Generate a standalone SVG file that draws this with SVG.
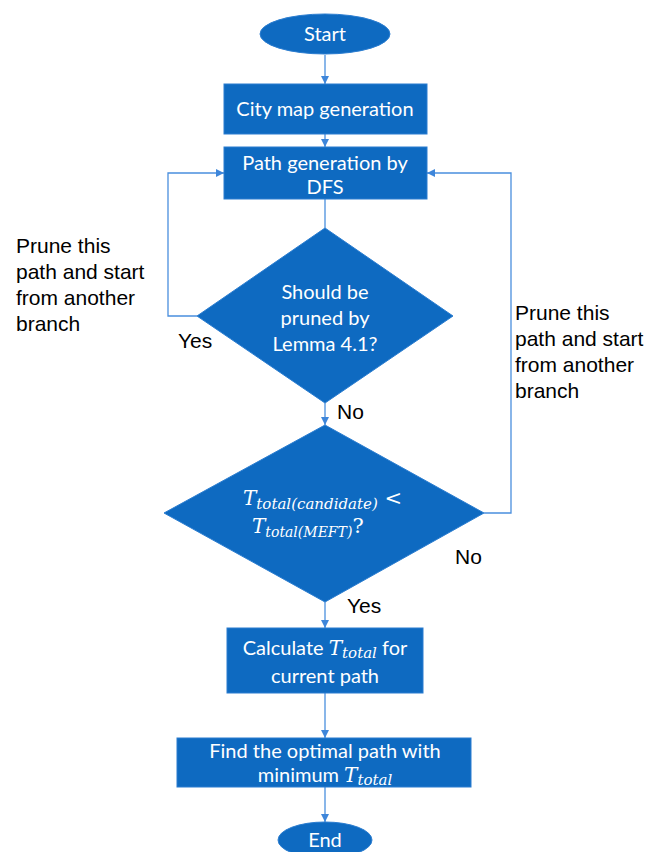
<svg xmlns="http://www.w3.org/2000/svg" width="648" height="852" viewBox="0 0 648 852">
<style>
.n{fill:#0E6AC1;stroke:#2B7DD0;stroke-width:1}
.t{font-family:Lato,"Open Sans",sans-serif;font-size:20px;fill:#fff;text-anchor:middle}
.m{font-family:"DejaVu Serif",serif;font-style:italic;fill:#fff}
.l{font-family:"Liberation Sans",Arial,sans-serif;font-size:21px;fill:#000}
.c{fill:none;stroke:#4A8FDE;stroke-width:1.3}
</style>
<defs>
<marker id="a" viewBox="0 0 10 10" refX="10" refY="5" markerWidth="8" markerHeight="8" markerUnits="userSpaceOnUse" orient="auto">
<path d="M0,0L10,5L0,10z" fill="#3E86DA"/>
</marker>
</defs>
<rect width="648" height="852" fill="#fff"/>
<g id="connectors">
<path class="c" d="M325,55V84" marker-end="url(#a)"/>
<path class="c" d="M325,134V147" marker-end="url(#a)"/>
<path class="c" d="M325,199V228"/>
<path class="c" d="M197,316H168V173H224" marker-end="url(#a)"/>
<path class="c" d="M325,403V425" marker-end="url(#a)"/>
<path class="c" d="M484,513H511V173H427" marker-end="url(#a)"/>
<path class="c" d="M325,602V628" marker-end="url(#a)"/>
<path class="c" d="M325,693V738" marker-end="url(#a)"/>
<path class="c" d="M325,787V822" marker-end="url(#a)"/>
</g>
<g id="start"><ellipse class="n" cx="325" cy="34" rx="65" ry="20"/><text class="t" x="325" y="41">Start</text></g>
<g id="citymap"><rect class="n" x="224" y="84" width="203" height="50"/><text class="t" x="325" y="116">City map generation</text></g>
<g id="pathgen"><rect class="n" x="224" y="147" width="203" height="52"/><text class="t" x="325" y="170">Path generation by</text><text class="t" x="325" y="194">DFS</text></g>
<g id="lemma"><polygon class="n" points="325,228 453,316 325,403 197,316"/><text class="t" x="325" y="299">Should be</text><text class="t" x="325" y="325">pruned by</text><text class="t" x="325" y="351">Lemma 4.1?</text></g>
<g id="compare"><polygon class="n" points="325,425 484,513 325,602 164,513"/>
<text class="m" x="243" y="505" font-size="20">T<tspan font-size="15" dy="4">total(candidate)</tspan><tspan dy="-4" font-style="normal" font-size="21"> &lt;</tspan></text>
<text class="m" x="252" y="533" font-size="20">T<tspan font-size="14" dy="4">total(MEFT)</tspan><tspan dy="-4" font-style="normal" font-size="21">?</tspan></text>
</g>
<g id="calc"><rect class="n" x="227" y="628" width="196" height="65"/>
<text class="t" x="325" y="655">Calculate <tspan class="m" font-size="20">T</tspan><tspan class="m" font-size="15" dy="3">total</tspan><tspan dy="-3"> for</tspan></text>
<text class="t" x="325" y="683">current path</text></g>
<g id="find"><rect class="n" x="177" y="738" width="294" height="49"/>
<text class="t" x="325" y="758">Find the optimal path with</text>
<text class="t" x="325" y="782">minimum <tspan class="m" font-size="20">T</tspan><tspan class="m" font-size="15" dy="3">total</tspan></text></g>
<g id="end"><ellipse class="n" cx="325" cy="840" rx="47" ry="18"/><text class="t" x="325" y="847">End</text></g>
<g id="labels">
<text class="l" x="16" y="253">Prune this</text>
<text class="l" x="16" y="279">path and start</text>
<text class="l" x="16" y="305">from another</text>
<text class="l" x="16" y="331">branch</text>
<text class="l" x="178" y="348">Yes</text>
<text class="l" x="337" y="419">No</text>
<text class="l" x="515" y="320">Prune this</text>
<text class="l" x="515" y="346">path and start</text>
<text class="l" x="515" y="372">from another</text>
<text class="l" x="515" y="398">branch</text>
<text class="l" x="455" y="564">No</text>
<text class="l" x="347" y="613">Yes</text>
</g>
</svg>
